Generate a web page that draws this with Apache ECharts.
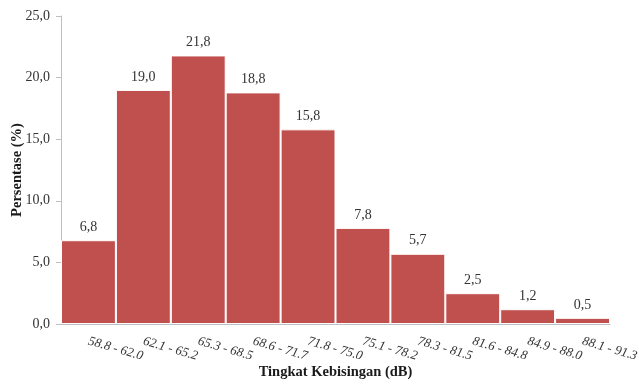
<!DOCTYPE html>
<html><head><meta charset="utf-8">
<script src="https://cdn.jsdelivr.net/npm/echarts@6/dist/echarts.min.js"></script>
<style>html,body{margin:0;padding:0;background:#fff}#c{width:639px;height:385px}</style>
</head><body><div id="c"></div>
<script>
const categories = ["58.8 - 62.0","62.1 - 65.2","65.3 - 68.5","68.6 - 71.7","71.8 - 75.0","75.1 - 78.2","78.3 - 81.5","81.6 - 84.8","84.9 - 88.0","88.1 - 91.3"];
const values = [6.8, 19.0, 21.8, 18.8, 15.8, 7.8, 5.7, 2.5, 1.2, 0.5];
const yTicks = [0, 5, 10, 15, 20, 25];
const xTitle = "Tingkat Kebisingan (dB)";
const yTitle = "Persentase (%)";

const fmt = v => Number(v).toFixed(1).replace('.', ',');
const serif = "'Liberation Serif', 'Times New Roman', serif";
const chart = echarts.init(document.getElementById('c'));
chart.setOption({
  animation: false,
  grid: { left: 61, right: 29, top: 16, bottom: 61, containLabel: false, outerBoundsMode: 'none' },
  xAxis: {
    type: 'category', data: categories,
    axisLine: { show: true, lineStyle: { color: '#bfbfbf', width: 1 } },
    axisTick: { show: false },
    axisLabel: { interval: 0, rotate: -16, fontFamily: serif, fontStyle: 'italic', fontSize: 13, color: '#333333', margin: 17 },
    name: xTitle, nameLocation: 'middle', nameGap: 41, nameMoveOverlap: false,
    nameTextStyle: { fontFamily: serif, fontWeight: 'bold', fontSize: 14.5, color: '#1a1a1a' }
  },
  yAxis: {
    type: 'value', min: yTicks[0], max: yTicks[yTicks.length - 1], interval: 5,
    axisLine: { show: true, lineStyle: { color: '#bfbfbf', width: 1 } },
    axisTick: { show: true, length: 5, lineStyle: { color: '#bfbfbf' } },
    splitLine: { show: false },
    axisLabel: { formatter: fmt, fontFamily: serif, fontSize: 14, color: '#333333', margin: 11 },
    name: yTitle, nameLocation: 'middle', nameGap: 36, nameRotate: 90, nameMoveOverlap: false,
    nameTextStyle: { fontFamily: serif, fontWeight: 'bold', fontSize: 14.5, color: '#1a1a1a' }
  },
  series: [{
    type: 'bar', data: values, barCategoryGap: 0,
    itemStyle: { color: '#C0504D', borderColor: '#ffffff', borderWidth: 1 },
    label: { show: true, position: 'top', distance: 6, formatter: p => fmt(p.value), fontFamily: serif, fontSize: 14, color: '#333333' }
  }]
});
</script></body></html>
